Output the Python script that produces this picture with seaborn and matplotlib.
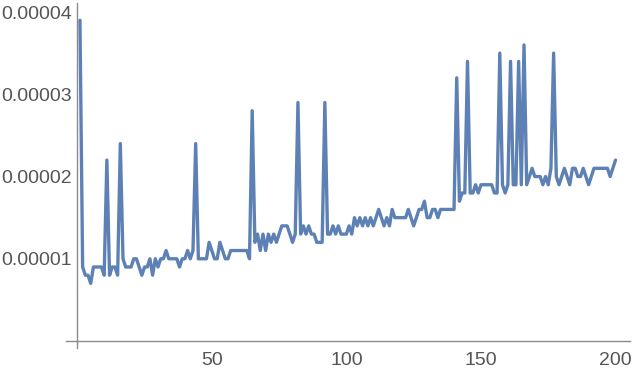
import numpy as np
import pandas as pd
import matplotlib
matplotlib.use("Agg")
import matplotlib.pyplot as plt
from matplotlib.ticker import MultipleLocator, FixedLocator, FormatStrFormatter
import seaborn as sns

# timings in microseconds (index 1..200)
steps = list(range(1, 201))
micro = [
    39, 9, 8, 8, 7, 9, 9, 9, 9, 8,
    22, 8, 9, 9, 8, 24, 10, 9, 9, 9,
    10, 10, 9, 8, 9, 9, 10, 8, 10, 9,
    10, 10, 11, 10, 10, 10, 10, 9, 10, 10,
    11, 10, 11, 24, 10, 10, 10, 10, 12, 11,
    10, 10, 12, 11, 10, 10, 11, 11, 11, 11,
    11, 11, 11, 10, 28, 12, 13, 11, 13, 11,
    13, 12, 13, 12, 13, 14, 14, 14, 13, 12,
    13, 29, 13, 14, 13, 14, 13, 13, 12, 12,
    12, 29, 13, 13, 14, 13, 14, 13, 13, 13,
    14, 13, 15, 14, 15, 14, 15, 14, 15, 14,
    15, 16, 15, 14, 15, 14, 16, 15, 15, 15,
    15, 15, 16, 15, 14, 15, 16, 16, 17, 15,
    15, 16, 16, 15, 16, 16, 16, 16, 16, 16,
    32, 17, 18, 18, 34, 18, 18, 19, 18, 19,
    19, 19, 19, 19, 18, 18, 35, 19, 18, 19,
    34, 19, 19, 34, 19, 36, 19, 20, 21, 20,
    20, 20, 19, 20, 19, 21, 35, 20, 19, 20,
    21, 20, 19, 21, 21, 20, 20, 21, 20, 19,
    20, 21, 21, 21, 21, 21, 21, 20, 21, 22,
]

df = pd.DataFrame({"n": steps, "t": np.array(micro) * 1e-6})

sns.set_style("white")
plt.rcParams['font.family'] = ['Liberation Sans', 'DejaVu Sans']

fig = plt.figure(figsize=(6.34, 3.74), dpi=100)
ax = fig.add_axes([0.1036, 0.0695, 0.8906, 0.9225])

sns.lineplot(data=df, x="n", y="t", ax=ax, color="#5E81B5", linewidth=2.4)

ax.set_xlim(-4.3, 205.5)
ax.set_ylim(-0.85e-6, 41.1e-6)

for side in ["top", "right"]:
    ax.spines[side].set_visible(False)
ax.spines["left"].set_position(("data", 0))
ax.spines["bottom"].set_position(("data", 0))
for side in ["left", "bottom"]:
    ax.spines[side].set_color("#8a8a8a")
    ax.spines[side].set_linewidth(1.0)

ax.xaxis.set_major_locator(FixedLocator([50, 100, 150, 200]))
ax.xaxis.set_minor_locator(MultipleLocator(10))
ax.yaxis.set_major_locator(FixedLocator([1e-5, 2e-5, 3e-5, 4e-5]))
ax.yaxis.set_minor_locator(MultipleLocator(2e-6))
ax.yaxis.set_major_formatter(FormatStrFormatter("%.5f"))

ax.tick_params(which="major", direction="in", length=4.5, width=0.8,
               color="#8a8a8a", labelsize=14, labelcolor="#555555")
ax.tick_params(which="minor", direction="in", length=2.5, width=0.6,
               color="#8a8a8a")
ax.tick_params(axis="x", which="major", pad=8)
ax.tick_params(axis="y", which="major", pad=4)

ax.set_xlabel("")
ax.set_ylabel("")

fig.savefig("out.png", dpi=100)
